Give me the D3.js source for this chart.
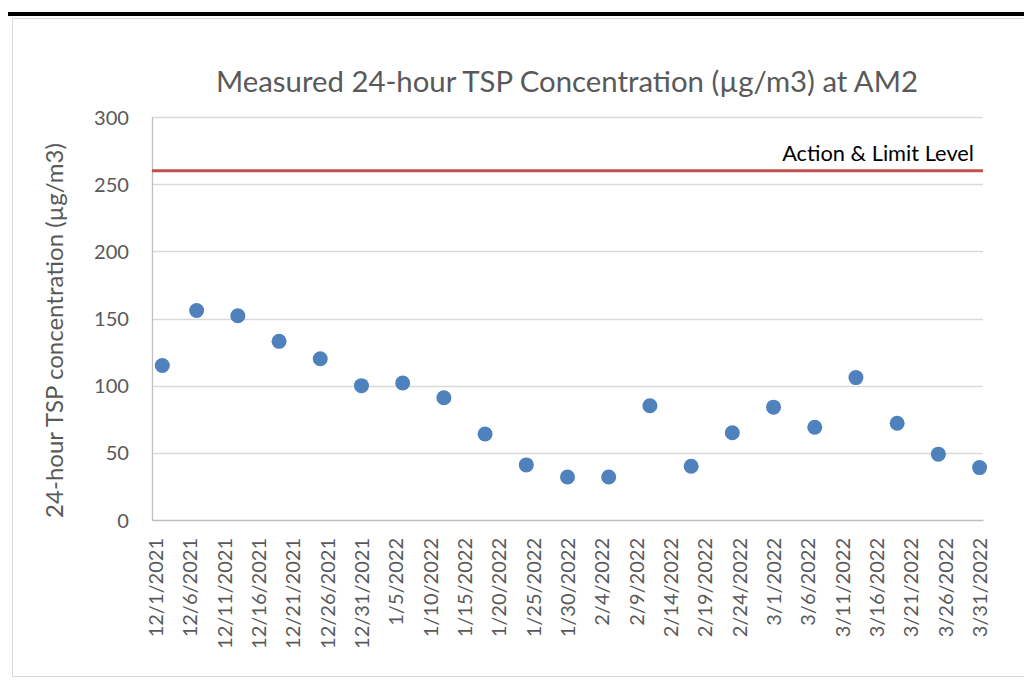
<!DOCTYPE html>
<html>
<head>
<meta charset="utf-8">
<script src="https://cdn.jsdelivr.net/npm/d3@7"></script>
<style>
  html, body { margin: 0; padding: 0; background: #fff; }
  svg { display: block; }
  text { font-family: Lato, "Open Sans", sans-serif; }
</style>
</head>
<body>
<svg id="chart" width="1024" height="681"></svg>
<script>
// ---- data ----
const sampleDates = ["2021-12-02","2021-12-07","2021-12-13","2021-12-19","2021-12-25","2021-12-31",
  "2022-01-06","2022-01-12","2022-01-18","2022-01-24","2022-01-30","2022-02-05","2022-02-11",
  "2022-02-17","2022-02-23","2022-03-01","2022-03-07","2022-03-13","2022-03-19","2022-03-25","2022-03-31"];
const tspValues = [115, 156, 152, 133, 120, 100, 102, 91, 64, 41, 32, 32, 85, 40, 65, 84, 69, 106, 72, 49, 39];
const limitLevel = 260;
const limitLabel = "Action & Limit Level";
const yTicks = [0, 50, 100, 150, 200, 250, 300];
const xTickDates = ["2021-12-01","2021-12-06","2021-12-11","2021-12-16","2021-12-21","2021-12-26","2021-12-31",
  "2022-01-05","2022-01-10","2022-01-15","2022-01-20","2022-01-25","2022-01-30","2022-02-04","2022-02-09",
  "2022-02-14","2022-02-19","2022-02-24","2022-03-01","2022-03-06","2022-03-11","2022-03-16","2022-03-21",
  "2022-03-26","2022-03-31"];
const axisStart = "2021-12-01", axisEnd = "2022-04-01";
const titleText = "Measured 24-hour TSP Concentration (µg/m3) at AM2";
const yTitleText = "24-hour TSP concentration (µg/m3)";

// ---- layout ----
const parse = d3.timeParse("%Y-%m-%d");
const fmt = d3.timeFormat("%-m/%-d/%Y");
const L = 152, R = 983, T = 117, B = 520;
const svg = d3.select("#chart");

function fitSize(sel, target) {
  const w = sel.node().getComputedTextLength();
  const fs = parseFloat(sel.attr("font-size"));
  return fs * target / w;
}

// frame
svg.append("rect").attr("x", 8).attr("y", 12).attr("width", 1016).attr("height", 4).attr("fill", "#000");
svg.append("rect").attr("x", 12.5).attr("y", 18.5).attr("width", 1030).attr("height", 658)
  .attr("fill", "none").attr("stroke", "#d9d9d9").attr("stroke-width", 1);

const x = d3.scaleTime().domain([parse(axisStart), parse(axisEnd)]).range([L, R]);
const y = d3.scaleLinear().domain([0, 300]).range([B, T]);
const mid = d => d3.timeHour.offset(parse(d), 12);

// gridlines
svg.append("g").selectAll("line").data(yTicks.filter(v => v > 0)).join("line")
  .attr("x1", L).attr("x2", R).attr("y1", d => Math.round(y(d)) + 0.5).attr("y2", d => Math.round(y(d)) + 0.5)
  .attr("stroke", "#d9d9d9").attr("stroke-width", 1.3);

// y axis
const yAxis = svg.append("g").attr("transform", `translate(${L},0)`)
  .call(d3.axisLeft(y).tickValues(yTicks).tickSize(0).tickPadding(23));
yAxis.select(".domain").attr("stroke", "#bfbfbf").attr("stroke-width", 1.3);
const ytx = yAxis.selectAll("text").attr("fill", "#595959").attr("font-size", 20).attr("dy", "0.35em");
const yfs = fitSize(ytx.filter(d => d === 300), 35);
ytx.attr("font-size", yfs);

// x axis
const xAxis = svg.append("g").attr("transform", `translate(0,${B})`)
  .call(d3.axisBottom(x).tickValues(xTickDates.map(mid)).tickSize(0).tickFormat(fmt));
xAxis.select(".domain").attr("stroke", "#bfbfbf").attr("stroke-width", 1.3);
const xt = xAxis.selectAll("text").attr("fill", "#595959").attr("font-size", 18)
  .attr("text-anchor", "end").attr("transform", "rotate(-90)")
  .attr("x", -18).attr("y", 0).attr("dy", "0.35em");
const xfs = fitSize(xt.filter(d => fmt(d) === "12/31/2021"), 111);
xt.attr("font-size", xfs);

// limit line
svg.append("line").attr("x1", L).attr("x2", R).attr("y1", y(limitLevel)).attr("y2", y(limitLevel))
  .attr("stroke", "#C0504D").attr("stroke-width", 3.2);
const lab = svg.append("text").attr("x", 974).attr("y", y(limitLevel) - 10).attr("text-anchor", "end")
  .attr("fill", "#000").attr("font-size", 18).text(limitLabel);
lab.attr("font-size", fitSize(lab, 192));

// points
svg.append("g").selectAll("circle").data(sampleDates.map((d, i) => ({d, v: tspValues[i]}))).join("circle")
  .attr("cx", p => x(mid(p.d))).attr("cy", p => y(p.v)).attr("r", 7.5).attr("fill", "#4F81BD");

// title
const title = svg.append("text").attr("x", 567).attr("y", 92).attr("text-anchor", "middle")
  .attr("fill", "#595959").attr("font-size", 24).text(titleText);
title.attr("font-size", fitSize(title, 702));

// y title
const yt = svg.append("text").attr("transform", "translate(63,330.5) rotate(-90)").attr("text-anchor", "middle")
  .attr("fill", "#595959").attr("font-size", 18).text(yTitleText);
yt.attr("font-size", fitSize(yt, 375));
</script>
</body>
</html>
